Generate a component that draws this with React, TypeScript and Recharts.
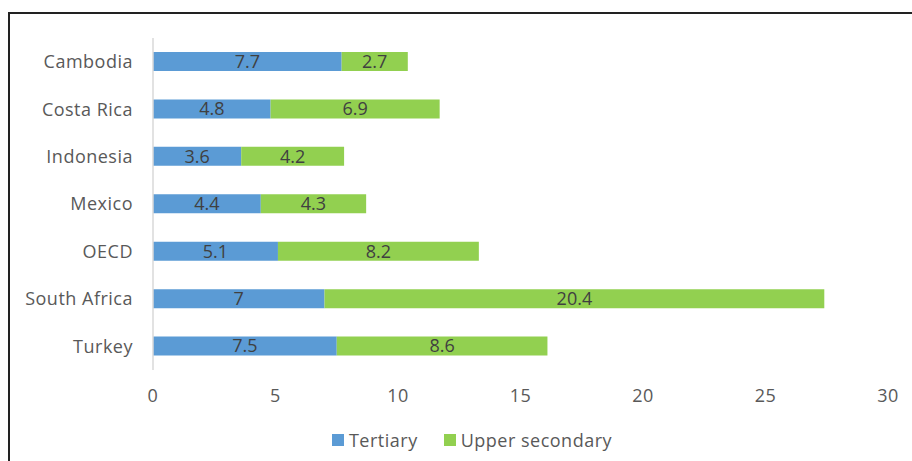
import { BarChart, Bar, XAxis, YAxis, Legend, LabelList } from 'recharts';

const countries = ['Cambodia', 'Costa Rica', 'Indonesia', 'Mexico', 'OECD', 'South Africa', 'Turkey'];
const tertiary = [7.7, 4.8, 3.6, 4.4, 5.1, 7, 7.5];
const upperSecondary = [2.7, 6.9, 4.2, 4.3, 8.2, 20.4, 8.6];
const xTicks = [0, 5, 10, 15, 20, 25, 30];

const data = countries.map((name, i) => ({
    name,
    tertiary: tertiary[i],
    upper: upperSecondary[i],
}));

const FONT = '"Open Sans", sans-serif';
const LS = 0.5;

const LegendContent = ({ payload }: any) => (
    <div style={{ display: 'flex', justifyContent: 'center', gap: 26, paddingLeft: 56 }}>
        {(payload || []).map((p: any) => (
            <div key={p.value} style={{ display: 'flex', alignItems: 'center', gap: 5 }}>
                <span style={{ width: 12, height: 12, background: p.color, display: 'inline-block' }} />
                <span style={{ color: '#595959', fontSize: 18, fontFamily: FONT, letterSpacing: LS }}>{p.value}</span>
            </div>
        ))}
    </div>
);

export default function App() {
    return (
        <div style={{ position: 'absolute', left: 0, top: 0, width: 912, height: 461, overflow: 'hidden', background: '#fff' }}>
            {/* frame */}
            <div style={{ position: 'absolute', left: 8, top: 12, width: 1000, height: 1000, border: '2px solid #222' }} />
            <BarChart
                width={912}
                height={461}
                layout="vertical"
                data={data}
                margin={{ top: 38, right: 24, left: 0, bottom: 0 }}
                barSize={19}
                style={{ position: 'absolute', left: 0, top: 0, fontFamily: FONT }}
            >
                <XAxis
                    type="number"
                    domain={[0, 30]}
                    ticks={xTicks}
                    axisLine={false}
                    tickLine={false}
                    tickMargin={13}
                    height={64}
                    tick={{ fill: '#595959', fontSize: 18, fontFamily: FONT, letterSpacing: LS }}
                />
                <YAxis
                    type="category"
                    dataKey="name"
                    width={153}
                    axisLine={{ stroke: '#D9D9D9', strokeWidth: 1.5 }}
                    tickLine={false}
                    tickMargin={14}
                    tick={{ fill: '#595959', fontSize: 18, fontFamily: FONT, letterSpacing: LS }}
                />
                <Legend
                    verticalAlign="bottom"
                    height={27}
                    content={<LegendContent />}
                    wrapperStyle={{ bottom: 6 }}
                />
                <Bar dataKey="tertiary" name="Tertiary" stackId="a" fill="#5B9BD5" isAnimationActive={false}>
                    <LabelList dataKey="tertiary" position="center" fill="#404040" fontSize={18} fontFamily={FONT} />
                </Bar>
                <Bar dataKey="upper" name="Upper secondary" stackId="a" fill="#92D050" isAnimationActive={false}>
                    <LabelList dataKey="upper" position="center" fill="#404040" fontSize={18} fontFamily={FONT} />
                </Bar>
            </BarChart>
        </div>
    );
}
